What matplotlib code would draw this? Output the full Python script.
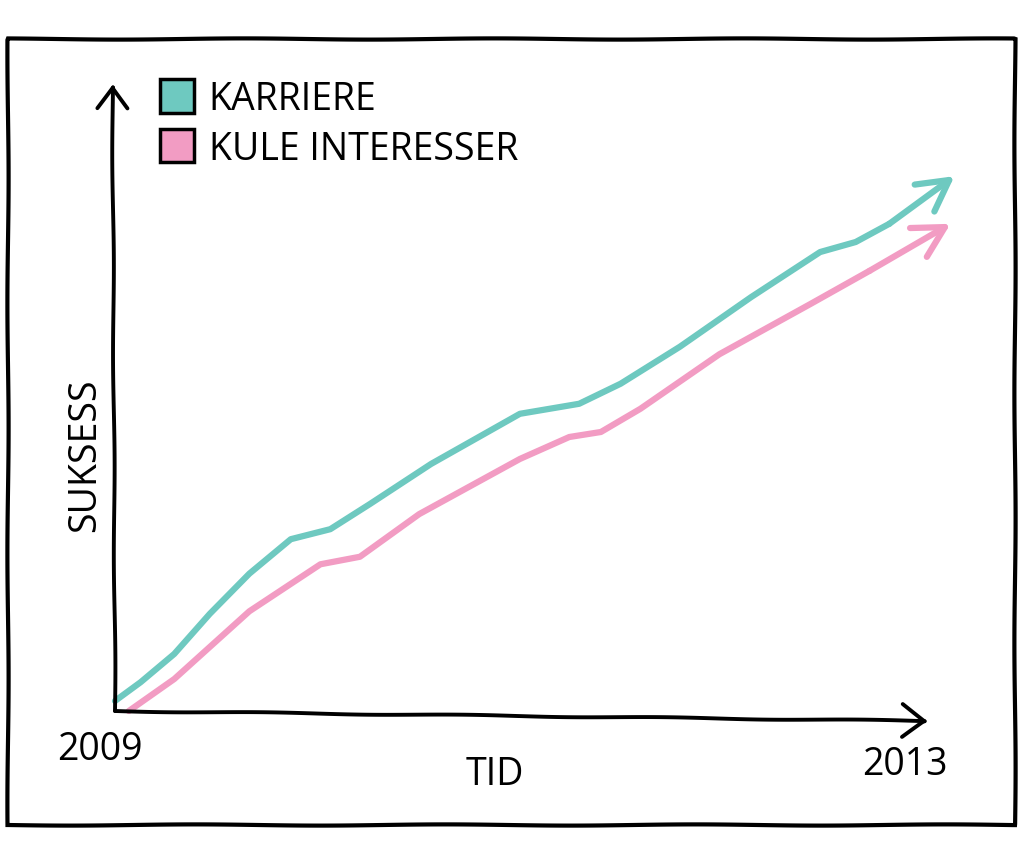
import matplotlib
matplotlib.use("Agg")
import matplotlib.pyplot as plt
from matplotlib.patches import Patch, Rectangle

# ---- data ----
series_names = ["KARRIERE", "KULE INTERESSER"]
karriere_x = [2009.00, 2009.13, 2009.30, 2009.48, 2009.68, 2009.89, 2010.09, 2010.29,
              2010.60, 2011.05, 2011.35, 2011.56, 2011.86, 2012.22, 2012.57, 2012.75,
              2012.92, 2013.25]
karriere_y = [1.6, 4.6, 9.1, 15.5, 21.9, 27.4, 29.0, 33.0,
              39.4, 47.4, 49.0, 52.2, 58.1, 66.0, 73.2, 74.8,
              77.7, 85.3]
interesser_x = [2009.07, 2009.30, 2009.68, 2010.04, 2010.24, 2010.54, 2011.05, 2011.30,
                2011.46, 2011.66, 2012.06, 2012.52, 2012.82, 2013.23]
interesser_y = [0.0, 5.1, 15.9, 23.4, 24.6, 31.4, 40.2, 43.7,
                44.5, 48.2, 56.9, 64.9, 70.2, 77.7]
year_labels = ["2009", "2013"]
year_ticks = [2009, 2013]
x_label = "TID"
y_label = "SUKSESS"

TEAL = "#6ec9c0"
PINK = "#f29cc3"
FONT = "Open Sans"

fig = plt.figure(figsize=(10.24, 8.54), dpi=100)
fig.patch.set_facecolor("white")

# outer hand-drawn frame
frame = Rectangle((8 / 1024, 28 / 854), 1007 / 1024, 786 / 854, transform=fig.transFigure,
                  fill=False, edgecolor="black", linewidth=3)
frame.set_sketch_params(0.6, 250, 1)
fig.patches.append(frame)

ax = fig.add_axes([115 / 1024, 142 / 854, 813 / 1024, 627 / 854])
ax.set_xlim(2009, 2013.116)
ax.set_ylim(0, 100)
ax.axis("off")

# hand drawn axes with open arrow heads
for xy, hl, hw in [((1.0, -0.016), 1.6, 1.2), ((-0.003, 1.0), 1.5, 1.1)]:
    a = ax.annotate("", xy=xy, xytext=(0.0, 0.0), xycoords="axes fraction",
                    textcoords="axes fraction", annotation_clip=False,
                    arrowprops=dict(arrowstyle=f"->,head_length={hl},head_width={hw}",
                                    color="black", lw=2.8, shrinkA=0, shrinkB=0,
                                    capstyle="round", joinstyle="round"))
    a.arrow_patch.set_sketch_params(0.6, 200, 1)

for xs, ys, col in [(karriere_x, karriere_y, TEAL), (interesser_x, interesser_y, PINK)]:
    ln, = ax.plot(xs[:-1], ys[:-1], color=col, lw=4.5, solid_capstyle="round",
                  solid_joinstyle="round", clip_on=False)
    a = ax.annotate("", xy=(xs[-1], ys[-1]), xytext=(xs[-2], ys[-2]), annotation_clip=False,
                    arrowprops=dict(arrowstyle="->,head_length=2.2,head_width=1.2",
                                    color=col, lw=4.5, shrinkA=0, shrinkB=0,
                                    capstyle="round", joinstyle="round"))

# year labels
ax.text(2008.924, -6.0, year_labels[0], ha="center", va="center", fontsize=27,
        family=FONT, clip_on=False)
ax.text(2013.0, -8.5, year_labels[1], ha="center", va="center", fontsize=27,
        family=FONT, clip_on=False)
ax.text(2010.924, -10.0, x_label, ha="center", va="center", fontsize=27,
        family=FONT, clip_on=False)
ax.text(2008.848, 41, y_label, ha="center", va="center", rotation=90, fontsize=27,
        family=FONT, clip_on=False)

handles = [Patch(facecolor=TEAL, edgecolor="black", linewidth=2.5),
           Patch(facecolor=PINK, edgecolor="black", linewidth=2.5)]
leg = fig.legend(handles, series_names, loc="upper left",
                 bbox_to_anchor=(160 / 1024, 1 - 80 / 854), bbox_transform=fig.transFigure,
                 frameon=False, handlelength=0.9, handleheight=1.0, handletextpad=0.4,
                 labelspacing=0.3, borderpad=0, borderaxespad=0,
                 prop=dict(family=FONT, size=27))

fig.savefig("out.png", dpi=100, facecolor="white")
